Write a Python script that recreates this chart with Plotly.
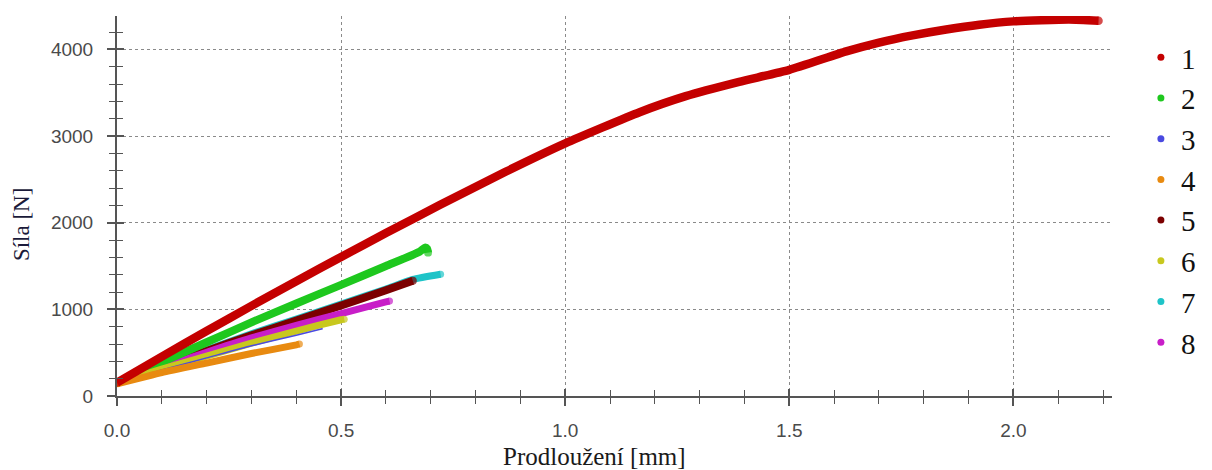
import plotly.graph_objects as go

# ---- data ----
names = ["1", "2", "3", "4", "5", "6", "7", "8"]
colors = ["#c40000", "#1ec81e", "#4a4ae0", "#e88a10", "#7c0000", "#c8c81e", "#1ec4c8", "#c81ec8"]
widths = [8.5, 8, 1.5, 7, 8, 7, 7, 7]

x1 = [0.0, 0.1, 0.2, 0.3, 0.4, 0.5, 0.6, 0.72, 0.868, 1.0, 1.166, 1.269, 1.388, 1.5, 1.627, 1.7, 1.775, 1.85, 1.924, 2.0, 2.124, 2.19]
y1 = [155, 455, 750, 1040, 1325, 1605, 1880, 2204, 2590, 2915, 3275, 3460, 3625, 3764, 3977, 4079, 4162, 4230, 4285, 4323, 4344, 4331]

x2 = [0.0, 0.1, 0.2, 0.3, 0.4, 0.5, 0.6, 0.675, 0.688, 0.692, 0.694]
y2 = [155, 390, 620, 850, 1068, 1282, 1500, 1665, 1715, 1700, 1655]

x3 = [0.0, 0.1, 0.2, 0.3, 0.4, 0.458]
y3 = [150, 300, 440, 580, 700, 775]

x4 = [0.0, 0.1, 0.2, 0.3, 0.4, 0.407]
y4 = [140, 270, 380, 490, 590, 600]

x5 = [0.0, 0.1, 0.2, 0.3, 0.4, 0.5, 0.6, 0.66]
y5 = [150, 340, 520, 700, 870, 1045, 1220, 1330]

x6 = [0.0, 0.1, 0.2, 0.3, 0.4, 0.5, 0.507]
y6 = [150, 310, 460, 610, 750, 880, 887]

x7 = [0.0, 0.1, 0.2, 0.3, 0.4, 0.5, 0.6, 0.66, 0.722]
y7 = [150, 348, 533, 718, 888, 1062, 1235, 1345, 1405]

x8 = [0.0, 0.1, 0.2, 0.3, 0.4, 0.5, 0.6, 0.608]
y8 = [150, 330, 505, 670, 815, 950, 1085, 1095]

xs = [x1, x2, x3, x4, x5, x6, x7, x8]
ys = [y1, y2, y3, y4, y5, y6, y7, y8]

x_ticks = [0.0, 0.5, 1.0, 1.5, 2.0]
x_labels = ["0.0", "0.5", "1.0", "1.5", "2.0"]
y_ticks = [0, 1000, 2000, 3000, 4000]
y_labels = ["0", "1000", "2000", "3000", "4000"]

x_title = "Prodloužení [mm]"
y_title = "Síla [N]"

# drawing order (bottom to top)
draw_order = [6, 4, 7, 1, 5, 2, 3, 0]

fig = go.Figure()
for i in draw_order:
    w = widths[i]
    n = len(xs[i])
    sizes = [w] + [0] * (n - 2) + [w]  # round caps at both ends
    fig.add_trace(go.Scatter(
        x=xs[i], y=ys[i], mode="lines+markers",
        line=dict(color=colors[i], width=w, shape="spline", smoothing=0.5),
        marker=dict(color=colors[i], size=sizes, line=dict(width=0)),
        showlegend=False, hoverinfo="skip"))

# legend entries (dots only)
for i in range(8):
    fig.add_trace(go.Scatter(
        x=[None], y=[None], mode="markers", name=names[i],
        marker=dict(color=colors[i], size=7),
        legendrank=i + 1))

# dummy trace for overlay axes (inside ticks so ticks cross the axis)
fig.add_trace(go.Scatter(x=[None], y=[None], xaxis="x2", yaxis="y2",
                         showlegend=False, hoverinfo="skip"))

XR = [0, 2.22]
YR = [0, 4385]
tick_font = dict(family="Liberation Sans, Arial, sans-serif", size=19, color="#4a4a4a")
axis_col = "#555555"

fig.update_layout(
    width=1212, height=470,
    margin=dict(l=117, r=99, t=16, b=74),
    paper_bgcolor="white", plot_bgcolor="white",
    xaxis=dict(range=XR, tickvals=x_ticks, ticktext=x_labels,
               showline=True, linecolor=axis_col, linewidth=2,
               ticks="outside", ticklen=8, tickwidth=1.5, tickcolor=axis_col,
               minor=dict(dtick=0.1, ticks="outside", ticklen=6, tickcolor=axis_col, tickwidth=1.2, showgrid=False),
               showgrid=True, gridcolor="#8a8a8a", griddash="dot", gridwidth=1,
               zeroline=False, tickfont=tick_font, ticklabelstandoff=8),
    yaxis=dict(range=YR, tickvals=y_ticks, ticktext=y_labels,
               showline=True, linecolor=axis_col, linewidth=2,
               ticks="outside", ticklen=8, tickwidth=1.5, tickcolor=axis_col,
               minor=dict(dtick=200, ticks="outside", ticklen=6, tickcolor=axis_col, tickwidth=1.2, showgrid=False),
               showgrid=True, gridcolor="#8a8a8a", griddash="dot", gridwidth=1,
               zeroline=False, tickfont=tick_font, ticklabelstandoff=10),
    xaxis2=dict(range=XR, overlaying="x", anchor="y2", side="bottom",
                tickvals=x_ticks, showticklabels=False, showgrid=False, zeroline=False,
                ticks="inside", ticklen=7, tickwidth=1.5, tickcolor=axis_col,
                minor=dict(dtick=0.1, ticks="inside", ticklen=6, tickcolor=axis_col, tickwidth=1.2, showgrid=False)),
    yaxis2=dict(range=YR, overlaying="y", anchor="x2", side="left",
                tickvals=y_ticks, showticklabels=False, showgrid=False, zeroline=False,
                ticks="inside", ticklen=7, tickwidth=1.5, tickcolor=axis_col,
                minor=dict(dtick=200, ticks="inside", ticklen=6, tickcolor=axis_col, tickwidth=1.2, showgrid=False)),
    legend=dict(x=1.028, y=0.958, xanchor="left", yanchor="top",
                font=dict(family="Liberation Serif, Times New Roman, serif", size=29, color="#111111"),
                bgcolor="rgba(0,0,0,0)", tracegroupgap=0, itemwidth=30),
    showlegend=True,
)

fig.add_annotation(text=x_title, xref="paper", yref="paper",
                   x=(595 - 117) / 996, y=(396 - 456) / 380,
                   xanchor="center", yanchor="middle", showarrow=False,
                   font=dict(family="Liberation Serif, Times New Roman, serif", size=25, color="#1a1a1a"))
fig.add_annotation(text=y_title, xref="paper", yref="paper",
                   x=(21 - 117) / 996, y=(396 - 225) / 380, textangle=-90,
                   xanchor="center", yanchor="middle", showarrow=False,
                   font=dict(family="Liberation Serif, Times New Roman, serif", size=23, color="#1a1a3a"))

fig.write_html("out.html")
